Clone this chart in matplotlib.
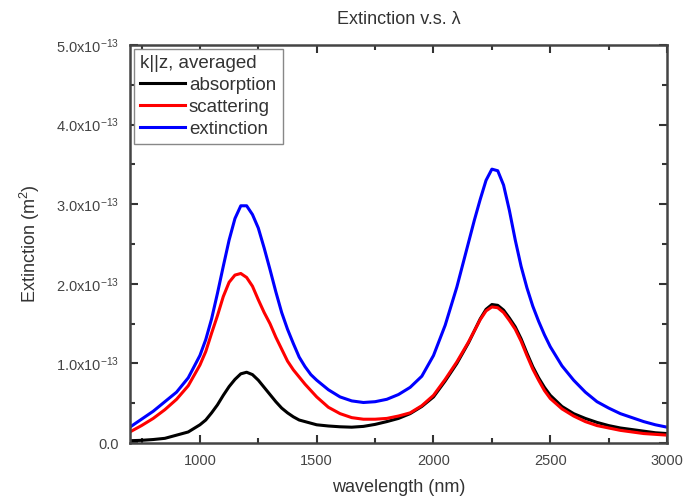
import numpy as np
import matplotlib.pyplot as plt

plt.rcParams['font.family'] = ['Liberation Sans', 'DejaVu Sans']
plt.rcParams['mathtext.fontset'] = 'custom'
plt.rcParams['mathtext.rm'] = 'Liberation Sans'
plt.rcParams['mathtext.it'] = 'Liberation Sans:italic'

# wavelength grid (nm), in units of 1e-13 m^2
wl = [700, 750, 800, 850, 900, 950, 1000,
      1025, 1050, 1075, 1100, 1125, 1150, 1175, 1200, 1225, 1250,
      1275, 1300, 1325, 1350, 1375, 1400, 1425, 1450, 1475, 1500,
      1550, 1600, 1650, 1700, 1750, 1800, 1850, 1900, 1950, 2000, 2050, 2100, 2150,
      2175, 2200, 2225, 2250, 2275, 2300, 2325, 2350, 2375, 2400, 2425, 2450, 2475, 2500,
      2550, 2600, 2650, 2700, 2750, 2800, 2850, 2900, 2950, 3000]

absorption = [0.03, 0.035, 0.045, 0.06, 0.10, 0.14, 0.23,
              0.29, 0.38, 0.48, 0.60, 0.71, 0.80, 0.87, 0.89, 0.86, 0.79,
              0.70, 0.61, 0.52, 0.44, 0.38, 0.33, 0.29, 0.27, 0.25, 0.23,
              0.215, 0.205, 0.20, 0.21, 0.235, 0.27, 0.31, 0.37, 0.46, 0.58, 0.78, 1.00, 1.26,
              1.41, 1.56, 1.68, 1.74, 1.73, 1.67, 1.57, 1.46, 1.31, 1.13, 0.96, 0.82, 0.70, 0.60,
              0.46, 0.37, 0.31, 0.26, 0.22, 0.19, 0.17, 0.15, 0.13, 0.12]

scattering = [0.14, 0.22, 0.31, 0.42, 0.55, 0.72, 0.98,
              1.15, 1.38, 1.60, 1.84, 2.02, 2.11, 2.13, 2.08, 1.97, 1.80,
              1.64, 1.50, 1.33, 1.18, 1.03, 0.92, 0.83, 0.74, 0.66, 0.58,
              0.45, 0.37, 0.32, 0.30, 0.30, 0.31, 0.34, 0.38, 0.47, 0.60, 0.80, 1.02, 1.27,
              1.41, 1.55, 1.66, 1.71, 1.70, 1.64, 1.54, 1.43, 1.28, 1.10, 0.93, 0.79, 0.66, 0.56,
              0.43, 0.34, 0.27, 0.22, 0.19, 0.16, 0.14, 0.12, 0.11, 0.10]

extinction = [0.20, 0.30, 0.40, 0.52, 0.64, 0.82, 1.10,
              1.30, 1.56, 1.88, 2.22, 2.55, 2.82, 2.98, 2.98, 2.87, 2.70,
              2.45, 2.18, 1.90, 1.64, 1.43, 1.25, 1.08, 0.96, 0.86, 0.79,
              0.67, 0.58, 0.53, 0.51, 0.52, 0.55, 0.61, 0.70, 0.84, 1.10, 1.48, 1.96, 2.52,
              2.80, 3.06, 3.30, 3.44, 3.42, 3.24, 2.92, 2.55, 2.22, 1.95, 1.72, 1.53, 1.36, 1.21,
              0.97, 0.79, 0.64, 0.52, 0.44, 0.37, 0.32, 0.27, 0.23, 0.20]

xticks = [1000, 1500, 2000, 2500, 3000]
yticks = [0, 1, 2, 3, 4, 5]
ytick_labels = ["0.0"] + [r"%.1fx10$^{\mathregular{-13}}$" % v for v in yticks[1:]]

wl = np.array(wl)
scale = 1e-13

fig = plt.figure(figsize=(6.87, 4.99), dpi=100)
ax = fig.add_axes([0.189, 0.112, 0.782, 0.798])

ax.plot(wl, np.array(absorption) * scale, color="black", lw=2.2, label="absorption")
ax.plot(wl, np.array(scattering) * scale, color="#ff0000", lw=2.2, label="scattering")
ax.plot(wl, np.array(extinction) * scale, color="#0000ff", lw=2.2, label="extinction")

ax.set_xlim(700, 3000)
ax.set_ylim(0, 5e-13)

ax.set_xticks(xticks)
ax.set_xticks(np.arange(750, 3000, 500), minor=True)
ax.set_yticks(np.array(yticks) * scale)
ax.set_yticklabels(ytick_labels)
ax.set_yticks(np.arange(0.5, 5, 1) * scale, minor=True)

for s in ax.spines.values():
    s.set_linewidth(1.8)
    s.set_color("#444444")

ax.tick_params(which="both", direction="in", top=True, right=True,
               color="#333333", labelcolor="#444444", labelsize=10.5, width=1.5)
ax.tick_params(which="major", length=6, pad=8)
ax.tick_params(which="minor", length=3.5)

ax.set_title(u"Extinction v.s. λ", fontsize=13, color="#333333", pad=15)
ax.set_xlabel("wavelength (nm)", fontsize=13, color="#333333", labelpad=8)
ax.set_ylabel(r"Extinction (m$^{\mathregular{2}}$)", fontsize=13, color="#333333", labelpad=10)

leg = ax.legend(loc="upper left", title="k||z, averaged", fontsize=13.5,
                title_fontsize=13.5, frameon=True, fancybox=False,
                edgecolor="#888888", framealpha=1, borderaxespad=0.2,
                handlelength=2.4, handletextpad=0.2, labelspacing=0.25,
                borderpad=0.35)
leg._legend_box.align = "left"
for t in leg.get_texts():
    t.set_color("#333333")
leg.get_title().set_color("#333333")
leg.get_frame().set_linewidth(1.0)

fig.savefig("out.png", dpi=100)
